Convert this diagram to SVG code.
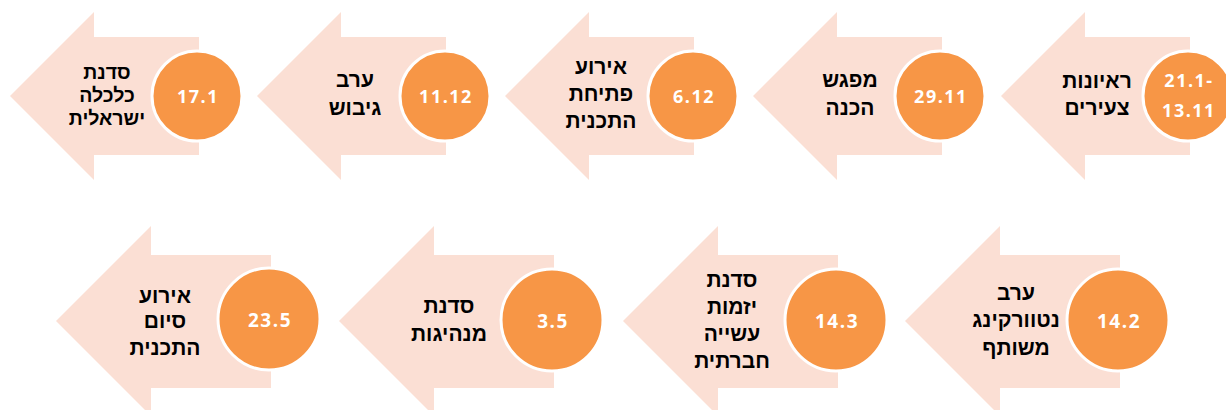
<svg xmlns="http://www.w3.org/2000/svg" xmlns:xlink="http://www.w3.org/1999/xlink" width="1226" height="410" viewBox="0 0 1226 410">
  <style>
    .arr { fill: #FBDFD4; }
    .dot { fill: #F79646; stroke: #FFFFFF; stroke-width: 3; }
    .lbl { font-family: "Liberation Sans", "DejaVu Sans", sans-serif; font-weight: bold; font-size: 21px; fill: #000000; text-anchor: middle; }
    .lbl-s { font-size: 19.5px; }
    .num { font-family: "Open Sans", "DejaVu Sans", sans-serif; font-weight: bold; font-size: 18px; fill: #FFFFFF; text-anchor: middle; letter-spacing: 1.5px; }
    .num-b { font-size: 19px; }
  </style>
  <defs>
    <path id="arrTop" d="M0,96 L84,12 L84,37 L189,37 L189,155 L84,155 L84,180 Z"/>
    <path id="arrBot" d="M0,321 L95,226 L95,255 L215,255 L215,388 L95,388 L95,416 Z"/>
  </defs>

  <!-- top row -->
  <g id="node-interviews">
    <use xlink:href="#arrTop" x="1001" class="arr"/>
    <text class="lbl" x="1097" y="88">ראיונות</text>
    <text class="lbl" x="1097" y="115">צעירים</text>
    <circle class="dot" cx="1188" cy="96" r="45"/>
    <text class="num" x="1189" y="87" direction="ltr">21.1-</text>
    <text class="num" x="1189" y="117">13.11</text>
  </g>
  <g id="node-prep">
    <use xlink:href="#arrTop" x="753" class="arr"/>
    <text class="lbl" x="850" y="87">מפגש</text>
    <text class="lbl" x="850" y="115">הכנה</text>
    <circle class="dot" cx="940" cy="96" r="45"/>
    <text class="num" x="941" y="103">29.11</text>
  </g>
  <g id="node-opening">
    <use xlink:href="#arrTop" x="505" class="arr"/>
    <text class="lbl" x="601" y="74">אירוע</text>
    <text class="lbl" x="601" y="101">פתיחת</text>
    <text class="lbl" x="601" y="128">התכנית</text>
    <circle class="dot" cx="693" cy="96" r="45"/>
    <text class="num" x="694" y="103">6.12</text>
  </g>
  <g id="node-bonding">
    <use xlink:href="#arrTop" x="257" class="arr"/>
    <text class="lbl" x="355" y="87">ערב</text>
    <text class="lbl" x="355" y="115">גיבוש</text>
    <circle class="dot" cx="445" cy="96" r="45"/>
    <text class="num" x="446" y="103">11.12</text>
  </g>
  <g id="node-economy">
    <use xlink:href="#arrTop" x="10" class="arr"/>
    <text class="lbl lbl-s" x="107" y="79">סדנת</text>
    <text class="lbl lbl-s" x="107" y="102">כלכלה</text>
    <text class="lbl lbl-s" x="107" y="125">ישראלית</text>
    <circle class="dot" cx="197" cy="96" r="45"/>
    <text class="num" x="198" y="103">17.1</text>
  </g>

  <!-- bottom row -->
  <g id="node-networking">
    <use xlink:href="#arrBot" x="905" class="arr"/>
    <text class="lbl" x="1016" y="300">ערב</text>
    <text class="lbl" x="1016" y="327">נטוורקינג</text>
    <text class="lbl" x="1016" y="355">משותף</text>
    <circle class="dot" cx="1118" cy="320" r="51"/>
    <text class="num num-b" x="1119" y="328">14.2</text>
  </g>
  <g id="node-social">
    <use xlink:href="#arrBot" x="623" class="arr"/>
    <text class="lbl" x="732" y="287">סדנת</text>
    <text class="lbl" x="732" y="314">יזמות</text>
    <text class="lbl" x="732" y="341">עשייה</text>
    <text class="lbl" x="732" y="368">חברתית</text>
    <circle class="dot" cx="836" cy="320" r="51"/>
    <text class="num num-b" x="837" y="328">14.3</text>
  </g>
  <g id="node-leadership">
    <use xlink:href="#arrBot" x="339" class="arr"/>
    <text class="lbl" x="449" y="313">סדנת</text>
    <text class="lbl" x="449" y="341">מנהיגות</text>
    <circle class="dot" cx="552" cy="320" r="51"/>
    <text class="num num-b" x="553" y="328">3.5</text>
  </g>
  <g id="node-closing">
    <use xlink:href="#arrBot" x="56" class="arr"/>
    <text class="lbl" x="165" y="303">אירוע</text>
    <text class="lbl" x="165" y="328">סיום</text>
    <text class="lbl" x="165" y="355">התכנית</text>
    <circle class="dot" cx="269" cy="319" r="51"/>
    <text class="num num-b" x="270" y="327">23.5</text>
  </g>
</svg>
